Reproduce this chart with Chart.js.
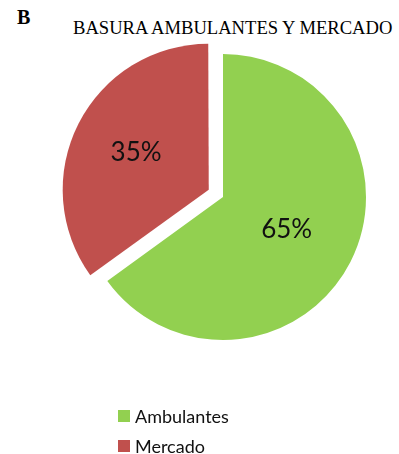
<!DOCTYPE html>
<html>
<head>
<meta charset="utf-8">
<script src="https://cdn.jsdelivr.net/npm/chart.js@4.4.1/dist/chart.umd.min.js"></script>
<style>
  html, body { margin: 0; padding: 0; background: #fff; }
  #wrap { position: relative; width: 399px; height: 454px; overflow: hidden; }
  #chart { position: absolute; left: 0; top: 0; }
  .letter { position: absolute; left: 17px; top: 6px; font: bold 20px "Liberation Serif", serif; color: #000; }
  .title { position: absolute; left: 73px; top: 17px; font: 18.6px "Liberation Serif", serif; color: #000; white-space: nowrap; }
</style>
</head>
<body>
<div id="wrap">
  <div class="letter">B</div>
  <div class="title">BASURA AMBULANTES Y MERCADO</div>
  <canvas id="chart" width="399" height="454"></canvas>
</div>
<script>
// ===================== DATA =====================
const categories = ["Ambulantes", "Mercado"];
const shares = [65, 35];
const sliceColors = ["#92D050", "#C0504D"];
// arc offset is drawn at a quarter of this value in Chart.js v4
const sliceOffsets = [0, 64];

// ===================== PERCENT LABELS ON SLICES =====================
const sliceLabels = {
  id: "sliceLabels",
  afterDatasetsDraw(chart) {
    const ctx = chart.ctx;
    const meta = chart.getDatasetMeta(0);
    ctx.save();
    ctx.font = "26px Lato";
    ctx.fillStyle = "#111";
    ctx.textAlign = "center";
    ctx.textBaseline = "middle";
    meta.data.forEach((arc, i) => {
      const mid = (arc.startAngle + arc.endAngle) / 2;
      const small = (arc.endAngle - arc.startAngle) < Math.PI;
      const dist = arc.options.offset / 4 + arc.outerRadius * (small ? 0.57 : 0.5);
      const x = arc.x + Math.cos(mid) * dist;
      const y = arc.y + Math.sin(mid) * dist;
      ctx.fillText(shares[i] + "%", x, y);
    });
    ctx.restore();
  }
};

// ===================== STACKED LEGEND UNDER THE PIE =====================
const stackedLegend = {
  id: "stackedLegend",
  afterDraw(chart) {
    const ctx = chart.ctx;
    const ds = chart.data.datasets[0];
    ctx.save();
    ctx.font = "18px Lato";
    ctx.textBaseline = "alphabetic";
    chart.data.labels.forEach((label, i) => {
      const top = 410 + i * 30;
      ctx.fillStyle = ds.backgroundColor[i];
      ctx.fillRect(118, top, 12, 12);
      ctx.fillStyle = "#111";
      ctx.fillText(label, 135, top + 13);
    });
    ctx.restore();
  }
};

new Chart(document.getElementById("chart"), {
  type: "pie",
  data: {
    labels: categories,
    datasets: [{
      data: shares,
      backgroundColor: sliceColors,
      offset: sliceOffsets,
      borderWidth: 0,
      hoverOffset: 0
    }]
  },
  options: {
    responsive: false,
    animation: false,
    radius: 143,
    layout: { padding: { left: 47, right: 0, top: 0, bottom: 60 } },
    plugins: {
      legend: { display: false },
      tooltip: { enabled: false }
    }
  },
  plugins: [sliceLabels, stackedLegend]
});
</script>
</body>
</html>
